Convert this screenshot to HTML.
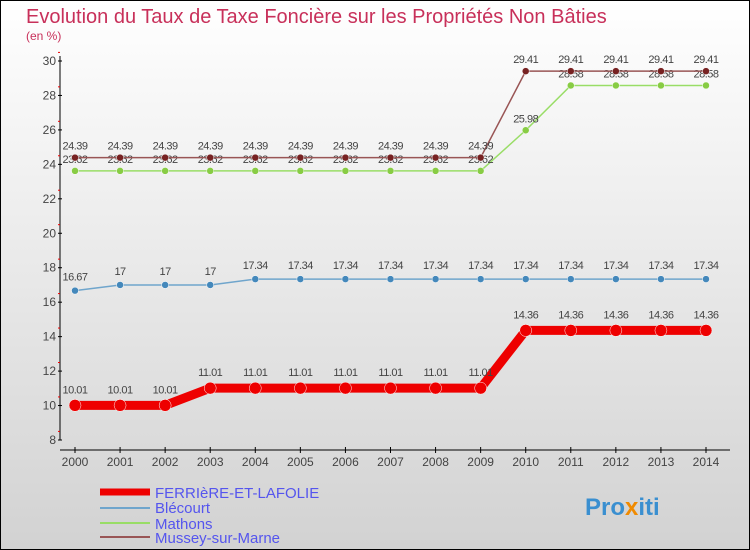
<!DOCTYPE html>
<html><head><meta charset="utf-8"><style>
body{margin:0}
#c{width:750px;height:550px;position:relative;overflow:hidden}
svg text{font-family:"Liberation Sans",sans-serif}
</style></head><body>
<div id="c">
<svg id="s" width="750" height="550" xmlns="http://www.w3.org/2000/svg">
<defs><linearGradient id="bg" x1="0" y1="0" x2="0" y2="1"><stop offset="0" stop-color="#ffffff"/><stop offset="1" stop-color="#d2d2d2"/></linearGradient></defs>
<rect x="0.5" y="0.5" width="749" height="549" fill="url(#bg)" stroke="#000"/>
<text x="26" y="23" font-size="20" fill="#c8305a">Evolution du Taux de Taxe Foncière sur les Propriétés Non Bâties</text>
<text x="26" y="40" font-size="12" fill="#c8305a">(en %)</text>
<g id="axes"></g><g id="series"></g>
<g>
<line x1="100" y1="492" x2="150" y2="492" stroke="#e00" stroke-width="7"/>
<text x="155" y="498" font-size="15" fill="#5555ee">FERRIèRE-ET-LAFOLIE</text>
<line x1="100" y1="508" x2="150" y2="508" stroke="#6fa5cc" stroke-width="2"/>
<text x="155" y="513" font-size="15" fill="#5555ee">Blécourt</text>
<line x1="100" y1="523" x2="150" y2="523" stroke="#99dd66" stroke-width="2"/>
<text x="155" y="529" font-size="15" fill="#5555ee">Mathons</text>
<line x1="100" y1="537" x2="150" y2="537" stroke="#995555" stroke-width="2"/>
<text x="155" y="543" font-size="15" fill="#5555ee">Mussey-sur-Marne</text>
</g>
<text x="585" y="515" font-size="24" font-weight="bold" fill="#3a8fd0">Pro<tspan fill="#f08a00">x</tspan>iti</text>
</svg></div>
<script>
const years=[2000,2001,2002,2003,2004,2005,2006,2007,2008,2009,2010,2011,2012,2013,2014];
const yTicks=[8,10,12,14,16,18,20,22,24,26,28,30];
const ferriere=[10.01,10.01,10.01,11.01,11.01,11.01,11.01,11.01,11.01,11.01,14.36,14.36,14.36,14.36,14.36];
const blecourt=[16.67,17,17,17,17.34,17.34,17.34,17.34,17.34,17.34,17.34,17.34,17.34,17.34,17.34];
const mathons=[23.62,23.62,23.62,23.62,23.62,23.62,23.62,23.62,23.62,23.62,25.98,28.58,28.58,28.58,28.58];
const mussey=[24.39,24.39,24.39,24.39,24.39,24.39,24.39,24.39,24.39,24.39,29.41,29.41,29.41,29.41,29.41];
const NS="http://www.w3.org/2000/svg";
const xs=i=>75+i*(706-75)/(years.length-1);
const ys=v=>440-(v-8)*(440-61)/22;
function mk(t,a,p){const e=document.createElementNS(NS,t);for(const k in a)e.setAttribute(k,a[k]);p.appendChild(e);return e;}
const ax=document.getElementById('axes');
const yl=mk('line',{x1:60,y1:56,x2:60,y2:440,stroke:'#000'},ax);


const xl=mk('line',{x1:60,y1:450,x2:730,y2:450,stroke:'#000'},ax);


yTicks.forEach(v=>{const y=ys(v);
mk('line',{x1:58,y1:y,x2:62,y2:y,stroke:'#000'},ax);
mk('line',{x1:58,y1:y-8.6,x2:60,y2:y-8.6,stroke:'#e00'},ax);
const t=mk('text',{x:56,y:y+4,'font-size':12,'text-anchor':'end',fill:'#444'},ax);t.textContent=v;

});
years.forEach((yr,i)=>{const x=xs(i);
mk('line',{x1:x,y1:447,x2:x,y2:453,stroke:'#000'},ax);
const t=mk('text',{x:x,y:466,'font-size':12,'text-anchor':'middle',fill:'#444'},ax);t.textContent=yr;

});
const sg=document.getElementById('series');
function draw(vals,name,col,lw,r,fill,lbl,dy){
const g=mk('g',{},sg);


mk('polyline',{points:vals.map((v,i)=>xs(i)+','+ys(v)).join(' '),fill:'none',stroke:col,'stroke-width':lw},g);
vals.forEach((v,i)=>{const c=mk('circle',{cx:xs(i),cy:ys(v),r:r,fill:fill,stroke:'#fff','stroke-width':0.5},g);


const t=mk('text',{x:xs(i),y:ys(v)+dy,'font-size':11,'text-anchor':'middle',fill:'#444','letter-spacing':'-0.5'},g);
t.textContent=String(v);

});
}
draw(mathons,'mathons','#99dd66',1.5,3.5,'#88cc44',1,-8);
draw(mussey,'mussey','#995555',1.5,3.5,'#772222',1,-8);
draw(blecourt,'blecourt','#6fa5cc',1.5,3.5,'#4488bb',1,-10);
draw(ferriere,'ferriere','#ee0000',9,6,'#ee0000',1,-12);
</script>
</body></html>
